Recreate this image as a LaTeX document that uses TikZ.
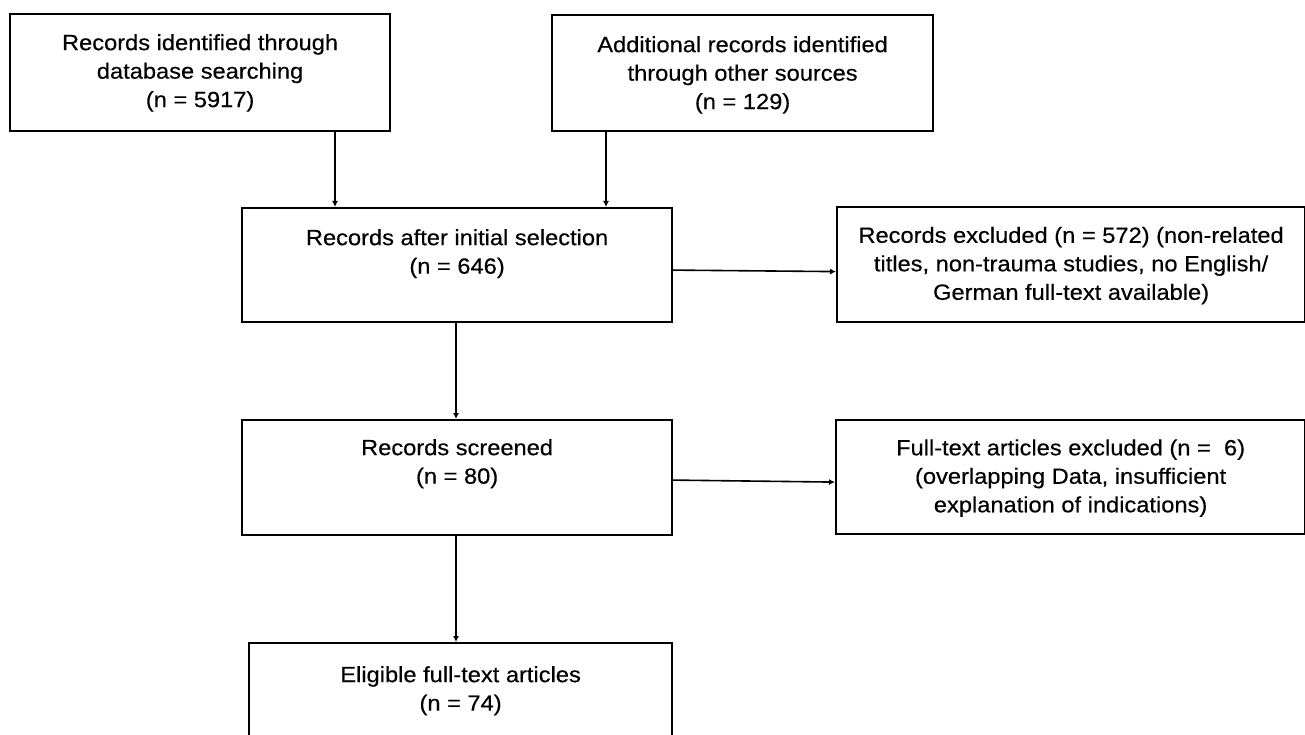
\documentclass[tikz,border=0pt]{standalone}
\usepackage{fontspec}
\setmainfont{Liberation Sans}[FakeStretch=1.075,FakeBold=0.4]
\usetikzlibrary{arrows.meta}
\begin{document}
\begin{tikzpicture}[x=1pt,y=-1pt,
  box/.style={draw=black, line width=2.2pt, inner sep=0pt, anchor=north west},
  txt/.style={inner sep=0pt, align=center, anchor=north,
    font=\fontsize{22}{28.5}\selectfont},
  ctxt/.style={inner sep=0pt, align=center,
    font=\fontsize{22}{28.5}\selectfont},
  arr/.style={draw=black, line width=1.6pt, -{Latex[length=6pt,width=6pt]}}]
\useasboundingbox (0,0) rectangle (1305,735);
\clip (0,0) rectangle (1305,735);
\fill[white] (0,0) rectangle (1305,735);
% boxes
\node[box, minimum width=380pt, minimum height=117pt] (b1) at (9,13) {};
\node[box, minimum width=381pt, minimum height=116pt] (b2) at (551,14) {};
\node[box, minimum width=430pt, minimum height=114pt] (b3) at (241,207) {};
\node[box, minimum width=468pt, minimum height=115pt] (b4) at (836,206) {};
\node[box, minimum width=430pt, minimum height=115pt] (b5) at (241,419) {};
\node[box, minimum width=469pt, minimum height=114pt] (b6) at (835,419) {};
\node[box, minimum width=423pt, minimum height=140pt] (b7) at (248,642) {};
% texts
\node[txt] (t1) at ([yshift=-21pt]b1.north) {Records identified through\\database searching\\(n = 5917)};
\node[txt] (t2) at ([yshift=-22pt]b2.north) {Additional records identified\\through other sources\\(n = 129)};
\node[txt] (t3) at ([yshift=-22pt]b3.north) {Records after initial selection\\(n = 646)};
\node[ctxt] (t4) at ([yshift=-1pt]b4.center) {Records excluded (n = 572) (non-related\\titles, non-trauma studies, no English/\\German full-text available)};
\node[txt] (t5) at ([yshift=-20pt]b5.north) {Records screened\\(n = 80)};
\node[ctxt] (t6) at ([yshift=-1pt]b6.center) {Full-text articles excluded (n =\ \ 6)\\(overlapping Data, insufficient\\explanation of indications)};
\node[txt] (t7) at ([yshift=-24pt]b7.north) {Eligible full-text articles\\(n = 74)};
% connectors
\coordinate (c1) at (335,0);
\coordinate (c2) at (606,0);
\coordinate (c3) at (456,0);
\draw[arr] (c1 |- b1.south) -- (c1 |- b3.north);
\draw[arr] (c2 |- b2.south) -- (c2 |- b3.north);
\draw[arr] (c3 |- b3.south) -- (c3 |- b5.north);
\draw[arr] (c3 |- b5.south) -- (c3 |- b7.north);
\draw[arr] ([yshift=-5pt]b3.east) -- ([yshift=-7pt]b4.west);
\draw[arr] ([yshift=-2.5pt]b5.east) -- ([yshift=-5pt]b6.west);
\end{tikzpicture}
\end{document}
